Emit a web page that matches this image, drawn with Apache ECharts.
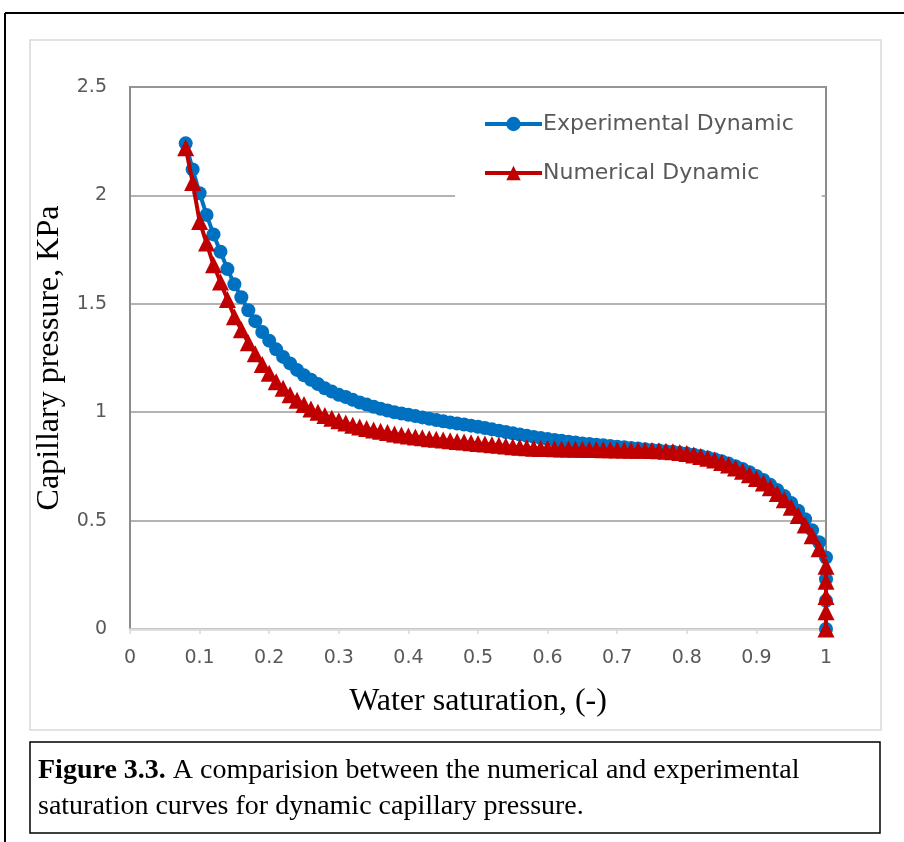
<!DOCTYPE html>
<html>
<head>
<meta charset="utf-8">
<script src="https://cdn.jsdelivr.net/npm/echarts@6/dist/echarts.min.js"></script>
<style>
  html, body { margin: 0; padding: 0; background: #fff; }
  #chart { width: 904px; height: 842px; }
</style>
</head>
<body>
<div id="chart"></div>
<script>
// ---- data ----
const expSat = [0.08,0.09,0.10,0.11,0.12,0.13,0.14,0.15,0.16,0.17,0.18,0.19,0.20,0.21,0.22,0.23,0.24,0.25,0.26,0.27,0.28,0.29,
  0.30,0.31,0.32,0.33,0.34,0.35,0.36,0.37,0.38,0.39,0.40,0.41,0.42,0.43,0.44,0.45,0.46,0.47,0.48,0.49,
  0.50,0.51,0.52,0.53,0.54,0.55,0.56,0.57,0.58,0.59,0.60,0.61,0.62,0.63,0.64,0.65,0.66,0.67,0.68,0.69,
  0.70,0.71,0.72,0.73,0.74,0.75,0.76,0.77,0.78,0.79,0.80,0.81,0.82,0.83,0.84,0.85,0.86,0.87,0.88,0.89,
  0.90,0.91,0.92,0.93,0.94,0.95,0.96,0.97,0.98,0.99,1.00,1.00,1.00,1.00];
const expPc = [2.24,2.12,2.01,1.91,1.82,1.74,1.66,1.59,1.53,1.47,1.42,1.37,1.33,1.29,1.255,1.225,1.195,1.17,1.15,1.13,1.11,1.095,
  1.08,1.07,1.057,1.045,1.035,1.025,1.016,1.008,1.00,0.994,0.988,0.982,0.976,0.97,0.964,0.958,0.953,0.948,0.943,0.938,
  0.933,0.927,0.921,0.915,0.909,0.903,0.897,0.891,0.886,0.881,0.876,0.872,0.868,0.864,0.86,0.856,0.853,0.85,0.847,0.844,
  0.841,0.838,0.835,0.832,0.829,0.826,0.823,0.82,0.817,0.813,0.809,0.804,0.798,0.791,0.783,0.774,0.763,0.751,0.738,0.723,
  0.706,0.687,0.665,0.641,0.613,0.581,0.546,0.506,0.456,0.40,0.33,0.23,0.13,0.0];

const numSat = [0.08,0.09,0.10,0.11,0.12,0.13,0.14,0.15,0.16,0.17,0.18,0.19,0.20,0.21,0.22,0.23,0.24,0.25,0.26,0.27,0.28,0.29,
  0.30,0.31,0.32,0.33,0.34,0.35,0.36,0.37,0.38,0.39,0.40,0.41,0.42,0.43,0.44,0.45,0.46,0.47,0.48,0.49,
  0.50,0.51,0.52,0.53,0.54,0.55,0.56,0.57,0.58,0.59,0.60,0.61,0.62,0.63,0.64,0.65,0.66,0.67,0.68,0.69,
  0.70,0.71,0.72,0.73,0.74,0.75,0.76,0.77,0.78,0.79,0.80,0.81,0.82,0.83,0.84,0.85,0.86,0.87,0.88,0.89,
  0.90,0.91,0.92,0.93,0.94,0.95,0.96,0.97,0.98,0.99,1.00,1.00,1.00,1.00,1.00];
const numPc = [2.22,2.06,1.88,1.78,1.68,1.60,1.52,1.44,1.38,1.32,1.27,1.22,1.18,1.14,1.11,1.08,1.055,1.035,1.015,1.00,0.985,0.972,
  0.96,0.95,0.94,0.932,0.925,0.918,0.912,0.906,0.90,0.895,0.89,0.886,0.882,0.878,0.875,0.872,0.868,0.865,0.862,0.859,
  0.856,0.853,0.85,0.847,0.844,0.841,0.838,0.836,0.834,0.833,0.832,0.831,0.83,0.83,0.829,0.829,0.828,0.828,0.827,0.827,
  0.826,0.826,0.825,0.825,0.824,0.823,0.822,0.82,0.818,0.814,0.809,0.803,0.796,0.788,0.779,0.768,0.756,0.743,0.728,0.712,
  0.694,0.674,0.651,0.625,0.596,0.562,0.524,0.48,0.43,0.37,0.29,0.22,0.15,0.08,0.0];

const seriesNames = ['Experimental Dynamic', 'Numerical Dynamic'];
const xTitle = 'Water saturation, (-)';
const yTitle = 'Capillary pressure, KPa';
const captionBold = 'Figure 3.3.';
const captionRest1 = ' A comparision between the numerical and experimental';
const captionLine2 = 'saturation curves for dynamic capillary pressure.';

// ---- chart ----
const pairs = (xs, ys) => xs.map((x, i) => [x, ys[i]]);
const chart = echarts.init(document.getElementById('chart'), null, { renderer: 'canvas' });
const labelFont = "'DejaVu Sans', sans-serif";
const serif = "'Liberation Serif', 'Times New Roman', serif";

chart.setOption({
  animation: false,
  backgroundColor: '#fff',
  grid: {
    left: 130, right: 78, top: 87, bottom: 213,
    show: true, borderColor: '#8c8c8c', borderWidth: 2, backgroundColor: 'transparent'
  },
  xAxis: {
    type: 'value', min: 0, max: 1, interval: 0.1,
    name: xTitle, nameLocation: 'middle', nameGap: 57,
    nameTextStyle: { fontFamily: serif, fontSize: 32, color: '#000' },
    axisLine: { show: true, lineStyle: { color: '#d9d9d9', width: 2.5 } },
    axisTick: { show: true, length: 5, lineStyle: { color: '#d9d9d9', width: 1.5 } },
    axisLabel: { fontFamily: labelFont, fontSize: 19, color: '#595959', margin: 20 },
    splitLine: { show: false }
  },
  yAxis: {
    type: 'value', min: 0, max: 2.5, interval: 0.5,
    name: yTitle, nameLocation: 'middle', nameGap: 61, nameRotate: 90,
    nameTextStyle: { fontFamily: serif, fontSize: 32, color: '#000' },
    axisLine: { show: true, lineStyle: { color: '#8c8c8c', width: 2 } },
    axisTick: { show: false },
    axisLabel: { fontFamily: labelFont, fontSize: 19, color: '#595959', margin: 23 },
    splitLine: { show: true, lineStyle: { color: '#9a9a9a', width: 1.5 } }
  },
  legend: {
    orient: 'vertical',
    left: 455, top: 98,
    data: seriesNames,
    itemWidth: 57, itemHeight: 18, itemGap: 25,
    padding: [14, 28, 14, 28],
    backgroundColor: '#fff',
    lineStyle: { width: 4 },
    textStyle: { fontFamily: labelFont, fontSize: 22, color: '#595959', lineHeight: 24, padding: [0, 0, 0, -4] }
  },
  series: [
    {
      name: seriesNames[0], type: 'line', data: pairs(expSat, expPc),
      symbol: 'circle', symbolSize: 14, clip: false,
      lineStyle: { color: '#0070C0', width: 4 },
      itemStyle: { color: '#0070C0' }, z: 3
    },
    {
      name: seriesNames[1], type: 'line', data: pairs(numSat, numPc),
      symbol: 'triangle', symbolSize: 17, clip: false,
      lineStyle: { color: '#C00000', width: 4 },
      itemStyle: { color: '#C00000' }, z: 4
    }
  ],
  graphic: [
    { type: 'line', shape: { x1: 5, y1: 13, x2: 904, y2: 13 }, style: { stroke: '#000', lineWidth: 2 }, z: 0 },
    { type: 'line', shape: { x1: 5, y1: 13, x2: 5, y2: 842 }, style: { stroke: '#000', lineWidth: 2 }, z: 0 },
    { type: 'rect', shape: { x: 30, y: 40, width: 851, height: 690 }, style: { fill: null, stroke: '#d9d9d9', lineWidth: 1.5 }, z: 0 },
    { type: 'rect', shape: { x: 30, y: 742, width: 850, height: 91 }, style: { fill: null, stroke: '#000', lineWidth: 1.5 }, z: 0 },
    {
      type: 'text', left: 38, top: 757, z: 1,
      style: {
        text: '{b|' + captionBold + '}{n|' + captionRest1 + '}\n{n|' + captionLine2 + '}',
        rich: {
          b: { fontFamily: serif, fontWeight: 'bold', fontSize: 28, lineHeight: 36, fill: '#000' },
          n: { fontFamily: serif, fontSize: 28, lineHeight: 36, fill: '#000' }
        }
      }
    }
  ]
});
</script>
</body>
</html>
